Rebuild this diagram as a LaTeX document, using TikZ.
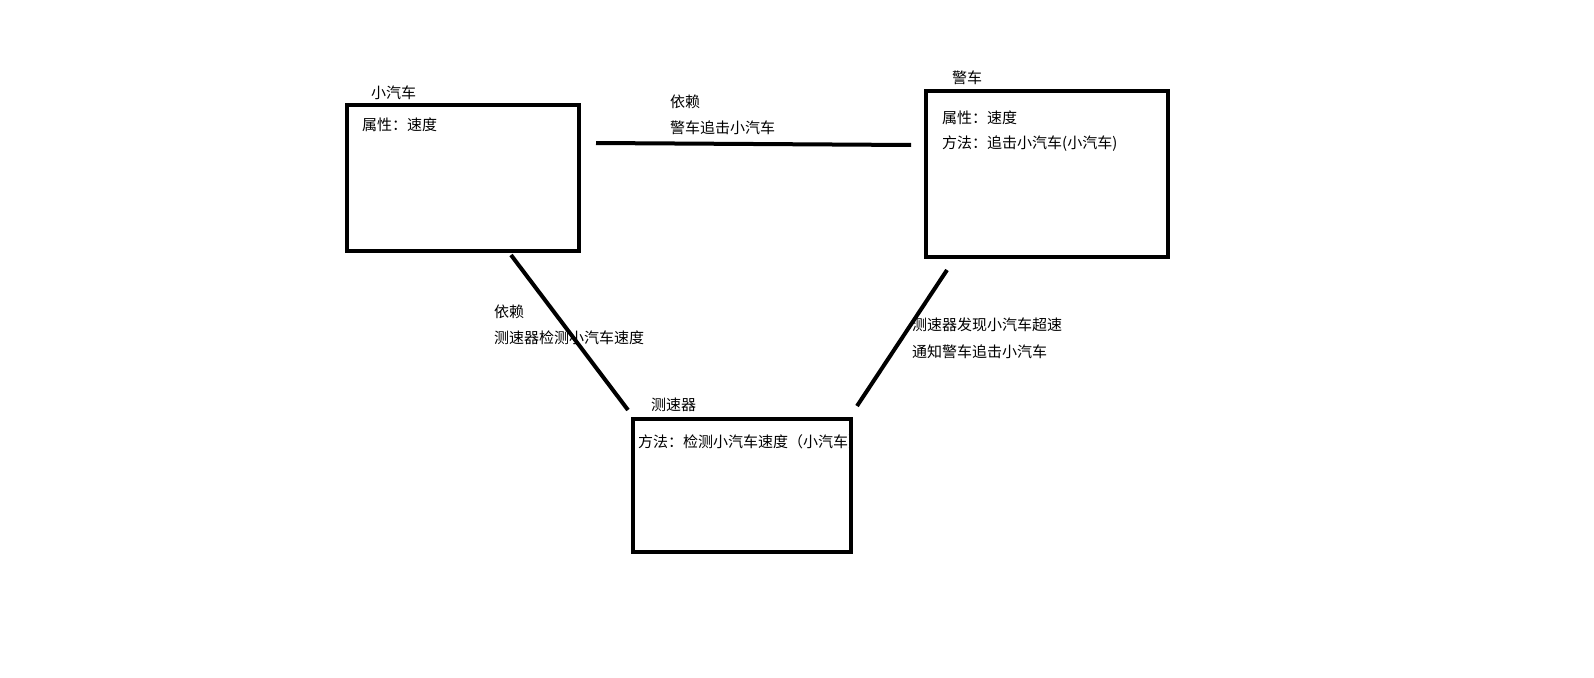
\documentclass[tikz,border=0pt]{standalone}
\usepackage{fontspec}
\setmainfont{Noto Sans CJK SC}
\begin{document}
\begin{tikzpicture}[x=1pt,y=-1pt,
  box/.style={draw,line width=4pt},
  lbl/.style={anchor=west,inner sep=0pt,font=\fontsize{15}{18}\selectfont},
  conn/.style={line width=4pt}]
\useasboundingbox[fill=white] (0,0) rectangle (1594,677);
\draw[box] (347,105) rectangle (579,251);
\draw[box] (926,91) rectangle (1168,257);
\draw[box] (633,419) rectangle (851,552);
\node[lbl] (car) at (371,93) {小汽车};
\node[lbl] (carA) at (362,125) {属性：速度};
\node[lbl] (pol) at (952,78) {警车};
\node[lbl] (polA) at (942,118) {属性：速度};
\node[lbl] (polM) at (942,144) {方法：追击小汽车(小汽车)};
\node[lbl] (rad) at (651,405) {测速器};
\node[lbl] (radM) at (638,442) {方法：检测小汽车速度（小汽车）};
\coordinate (t1) at (596,143); \coordinate (t2) at (911,145);
\coordinate (l1) at (511,255); \coordinate (l2) at (628,410);
\coordinate (r1) at (947,270); \coordinate (r2) at (857,406);
\draw[conn] (t1) -- (t2);
\draw[conn] (l1) -- (l2);
\draw[conn] (r1) -- (r2);
\node[lbl] (tl1) at (670,102) {依赖};
\node[lbl] (tl2) at (670,128) {警车追击小汽车};
\node[lbl] (ll1) at (494,312) {依赖};
\node[lbl] (ll2) at (494,338) {测速器检测小汽车速度};
\node[lbl] (rl1) at (912,325) {测速器发现小汽车超速};
\node[lbl] (rl2) at (912,352) {通知警车追击小汽车};
\end{tikzpicture}
\end{document}
